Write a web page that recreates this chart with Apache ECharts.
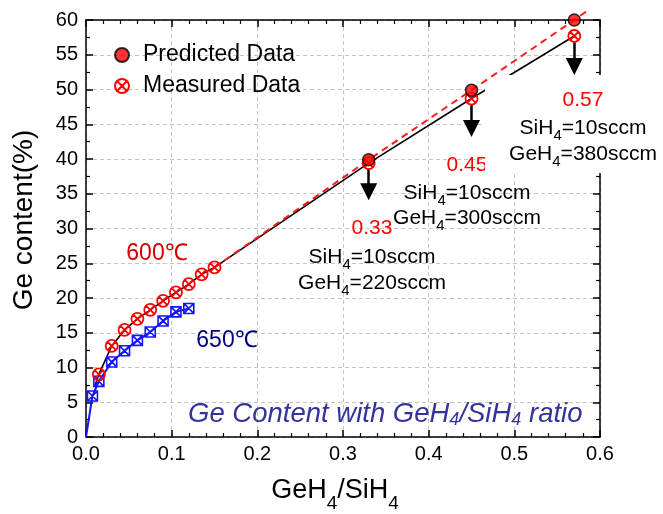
<!DOCTYPE html>
<html><head><meta charset="utf-8">
<script src="https://cdn.jsdelivr.net/npm/echarts@6/dist/echarts.min.js"></script>
<style>html,body{margin:0;padding:0;background:#fff}#c{width:663px;height:514px}</style>
</head><body><div id="c"></div>
<script>
// ---- data ----
const xTickLabels = ['0.0','0.1','0.2','0.3','0.4','0.5','0.6'];
const yTickLabels = ['0','5','10','15','20','25','30','35','40','45','50','55','60'];
const ratio600 = [0.015,0.03,0.045,0.06,0.075,0.09,0.105,0.12,0.135,0.15];
const ge600    = [9.0,13.1,15.4,17.0,18.3,19.6,20.8,22.0,23.4,24.4];
const ratio650 = [0,0.0075,0.015,0.03,0.045,0.06,0.075,0.09,0.105,0.12];
const ge650    = [0,5.9,8.0,10.8,12.4,13.9,15.1,16.7,18.0,18.5];
const ratioHigh    = [0.33,0.45,0.57];
const predictedGe  = [39.9,49.9,60.0];
const measuredGe   = [39.4,48.7,57.7];
const fitRatio = [0.011,0.015,0.03,0.045,0.06,0.075,0.09,0.105,0.12,0.135,0.15,0.33,0.45,0.57];
const fitGe    = [7.6,9.0,13.1,15.4,17.0,18.3,19.6,20.8,22.0,23.4,24.4,39.4,48.7,57.7];
const trendRatio = [0.15,0.33,0.45,0.57,0.586];
const trendGe    = [24.4,39.9,49.9,60.0,61.4];
const arrowFrom = [38.6,47.9,56.8];
const arrowTo   = [35.3,44.4,53.3];
const flowSiH4 = [10,10,10];
const flowGeH4 = [220,300,380];

const FONT = "'Liberation Sans', Arial, sans-serif";
const crossedCircle = 'path://M-10,0A10,10,0,1,1,10,0A10,10,0,1,1,-10,0ZM-7.07,-7.07L7.07,7.07M7.07,-7.07L-7.07,7.07';
const crossedSquare = 'path://M-10,-10L10,-10L10,10L-10,10ZM-10,-10L10,10M10,-10L-10,10';

const zip = (a,b) => a.map((v,i)=>[v,b[i]]);

const chart = echarts.init(document.getElementById('c'), null, {renderer:'canvas'});

const axisLine = {show:true,onZero:false,lineStyle:{color:'#000',width:1.5}};
const axisTick = {show:true,inside:true,length:7,lineStyle:{color:'#000',width:1.5}};

const subRich = (fs, lh, sfs, color) => ({
  n:{fontSize:fs,lineHeight:lh,fontFamily:FONT,fill:color,color:color},
  s:{fontSize:sfs,lineHeight:sfs,fontFamily:FONT,verticalAlign:'bottom',fill:color,color:color}
});

// annotation layout (pixels)
const annCx  = [372,467,583];
const annNumY = [228,165,100];
const annSiY  = [257,193,128];
const annGeY  = [283,218,154];

const graphics = [];
// white box covering part of plot (as in the reference)
graphics.push({type:'rect',z:5,shape:{x:485,y:75,width:200,height:98},style:{fill:'#fff'}});
ratioHigh.forEach((r,i)=>{
  graphics.push({type:'text',z:i===1?4:30,style:{text:r.toFixed(2),x:annCx[i],y:annNumY[i],align:'center',verticalAlign:'middle',fill:'#ff0000',font:'21px '+FONT}});
  graphics.push({type:'text',z:30,style:{text:'{n|SiH}{s|4}{n|='+flowSiH4[i]+'sccm}',x:annCx[i],y:annSiY[i],align:'center',verticalAlign:'middle',rich:subRich(21,30,15,'#000')}});
  graphics.push({type:'text',z:30,style:{text:'{n|GeH}{s|4}{n|='+flowGeH4[i]+'sccm}',x:annCx[i],y:annGeY[i],align:'center',verticalAlign:'middle',rich:subRich(21,30,15,'#000')}});
});
graphics.push({type:'text',z:30,style:{text:'600℃',x:157,y:254,align:'center',verticalAlign:'middle',fill:'#d00000',font:'23px '+FONT}});
graphics.push({type:'text',z:30,style:{text:'650℃',x:227,y:341,align:'center',verticalAlign:'middle',fill:'#00007f',font:'23px '+FONT}});
graphics.push({type:'text',z:30,style:{text:'{n|Ge Content with GeH}{s|4}{n|/SiH}{s|4}{n| ratio}',x:188,y:414,align:'left',verticalAlign:'middle',
  rich:{n:{fontSize:27.5,lineHeight:30,fontStyle:'italic',fontFamily:FONT,fill:'#333399'},s:{fontSize:18,lineHeight:24,fontStyle:'italic',verticalAlign:'bottom',fontFamily:FONT,fill:'#333399'}}}});
// axis titles
graphics.push({type:'text',z:30,rotation:Math.PI/2,x:24,y:220,style:{text:'Ge content(%)',x:0,y:0,align:'center',verticalAlign:'middle',fill:'#000',font:'28px '+FONT}});
graphics.push({type:'text',z:30,style:{text:'{n|GeH}{s|4}{n|/SiH}{s|4}',x:335,y:491,align:'center',verticalAlign:'middle',
  rich:{n:{fontSize:27,lineHeight:44,fontFamily:FONT,fill:'#000'},s:{fontSize:19,lineHeight:19,verticalAlign:'bottom',fontFamily:FONT,fill:'#000'}}}});

chart.setOption({
  animation:false,
  backgroundColor:'#fff',
  grid:{left:86,right:63,top:20,bottom:77,containLabel:false},
  legend:{
    show:true, orient:'vertical', left:109, top:38, itemGap:7, itemWidth:18, itemHeight:14,
    selectedMode:false,
    textStyle:{fontFamily:FONT,fontSize:23,color:'#000',lineHeight:24,padding:[0,0,0,7]},
    data:['Predicted Data','Measured Data']
  },
  xAxis:[
    {type:'value',position:'bottom',min:0,max:0.6,interval:0.1,axisLine:axisLine,axisTick:axisTick,
      axisLabel:{show:true,margin:7,color:'#000',fontFamily:FONT,fontSize:20,formatter:(v)=>xTickLabels[Math.round(v*10)]},
      minorTick:{show:true,splitNumber:5,length:4,lineStyle:{color:'#000',width:1.2}},
      splitLine:{show:true,lineStyle:{color:'#c4c4c4',width:1,type:[4,3]}}},
    {type:'value',position:'top',min:0,max:0.6,interval:0.1,axisLine:axisLine,axisTick:axisTick,
      axisLabel:{show:false},
      minorTick:{show:true,splitNumber:5,length:4,lineStyle:{color:'#000',width:1.2}},
      splitLine:{show:false}}
  ],
  yAxis:[
    {type:'value',position:'left',min:0,max:60,interval:5,axisLine:axisLine,axisTick:axisTick,
      axisLabel:{show:true,margin:8,color:'#000',fontFamily:FONT,fontSize:20,formatter:(v)=>yTickLabels[Math.round(v/5)]},
      minorTick:{show:true,splitNumber:2,length:4,lineStyle:{color:'#000',width:1.2}},
      splitLine:{show:true,lineStyle:{color:'#c4c4c4',width:1,type:[4,3]}}},
    {type:'value',position:'right',min:0,max:60,interval:5,axisLine:axisLine,axisTick:axisTick,
      axisLabel:{show:false},
      minorTick:{show:true,splitNumber:2,length:4,lineStyle:{color:'#000',width:1.2}},
      splitLine:{show:false}}
  ],
  series:[
    {name:'fit',type:'line',z:2,data:zip(fitRatio,fitGe),showSymbol:false,symbol:'none',
      lineStyle:{color:'#000',width:1.6},itemStyle:{color:'#000'},silent:true},
    {name:'650',type:'line',z:12,data:zip(ratio650,ge650).map((p,i)=>i===0?{value:p,symbol:'none'}:p),
      symbol:crossedSquare,symbolSize:10,
      lineStyle:{color:'#1414ff',width:2},itemStyle:{color:'rgba(255,255,255,0)',borderColor:'#1414ff',borderWidth:1.6},silent:true},
    {name:'trend',type:'line',z:15,clip:false,data:zip(trendRatio,trendGe),symbol:'none',
      lineStyle:{color:'#ff1a1a',width:2,type:[7,5]},itemStyle:{color:'#ff1a1a'},silent:true},
    {name:'Measured Data',type:'scatter',z:20,data:zip(ratio600,ge600).concat(zip(ratioHigh,measuredGe)),
      symbol:crossedCircle,symbolSize:12,
      itemStyle:{color:'rgba(255,255,255,0)',borderColor:'#ff0000',borderWidth:1.8,opacity:1},silent:true},
    {name:'Predicted Data',type:'scatter',z:21,data:zip(ratioHigh,predictedGe),
      symbol:'circle',symbolSize:12,
      itemStyle:{color:'#ff0000',borderColor:'#000',borderWidth:1.5},silent:true,
      markLine:{silent:true,symbol:['none','triangle'],symbolSize:17,label:{show:false},
        lineStyle:{color:'#000',width:2.5,type:'solid'},
        emphasis:{disabled:true},
        data:ratioHigh.map((r,i)=>[{coord:[r,arrowFrom[i]]},{coord:[r,arrowTo[i]]}])}
    }
  ],
  graphic:{elements:graphics}
});
</script></body></html>
